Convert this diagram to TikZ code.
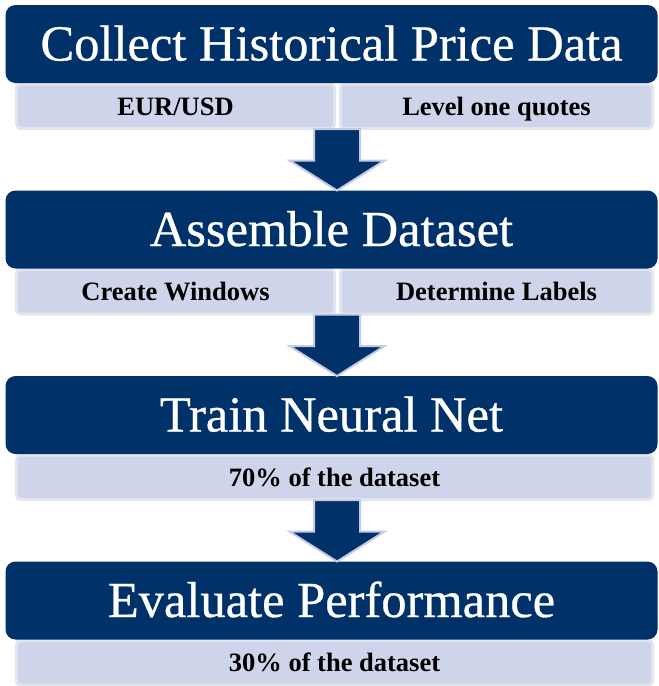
\documentclass[tikz,border=0pt]{standalone}
\usepackage{fontspec}
\setmainfont{Liberation Serif}
\newfontfamily\headfont[FakeBold=0.6]{Liberation Serif}
\usetikzlibrary{calc}

\definecolor{navy}{RGB}{0,50,105}
\definecolor{subfill}{RGB}{206,212,233}
\definecolor{subedge}{RGB}{226,229,238}
\definecolor{arrowedge}{RGB}{196,203,226}

\tikzset{
  header/.style={anchor=north west, fill=navy, draw=none, rounded corners=10pt,
    minimum width=652pt, minimum height=78pt, inner sep=0pt, outer sep=0pt,
    text=white, font=\headfont\fontsize{50.5}{56}\selectfont,
    text height=33pt, text depth=0pt},
  subbox/.style={anchor=north west, fill=subfill, draw=subedge, line width=3pt,
    rounded corners=4pt, minimum height=44.5pt, inner sep=0pt, outer sep=0pt,
    text=black, font=\fontsize{26.5}{30}\selectfont\bfseries,
    text height=17.5pt, text depth=0pt},
  flowarrow/.style={fill=navy, draw=arrowedge, line width=2pt, line join=miter},
}

% #1 = box the arrow leaves, #2 = header it points to
\newcommand\stepflow[2]{%
  \path let \p1=(#2.north), \p2=(#1.south) in
    [flowarrow] (\x1+5.5pt-23pt,\y2-0.5pt) -- (\x1+5.5pt+23pt,\y2-0.5pt)
    -- (\x1+5.5pt+23pt,\y1+30pt) -- (\x1+5.5pt+47.5pt,\y1+30pt)
    -- (\x1+5.5pt,\y1) -- (\x1+5.5pt-47.5pt,\y1+30pt)
    -- (\x1+5.5pt-23pt,\y1+30pt) -- cycle;}

\begin{document}
\begin{tikzpicture}[x=1pt,y=-1pt]
  \useasboundingbox (0,0) rectangle (659,686);

  % stage 1
  \node[subbox, minimum width=318pt] (s1a) at (16.5,84) {EUR/USD};
  \node[subbox, minimum width=312pt] (s1b) at (340.5,84) {Level one quotes};
  \node[header] (h1) at (5.5,5) {Collect Historical Price Data};

  % stage 2
  \node[subbox, minimum width=318pt] (s2a) at (16.5,269.5) {Create Windows};
  \node[subbox, minimum width=312pt] (s2b) at (340.5,269.5) {Determine Labels};
  \node[header] (h2) at (5.5,190.5) {Assemble Dataset};

  % stage 3
  \node[subbox, minimum width=636pt] (s3) at (16.5,455) {70\% of the dataset};
  \node[header] (h3) at (5.5,376) {Train Neural Net};

  % stage 4
  \node[subbox, minimum width=636pt] (s4) at (16.5,640.5) {30\% of the dataset};
  \node[header] (h4) at (5.5,561.5) {Evaluate Performance};

  % arrows between stages
  \stepflow{s1a}{h2}
  \stepflow{s2a}{h3}
  \stepflow{s3}{h4}
\end{tikzpicture}
\end{document}
